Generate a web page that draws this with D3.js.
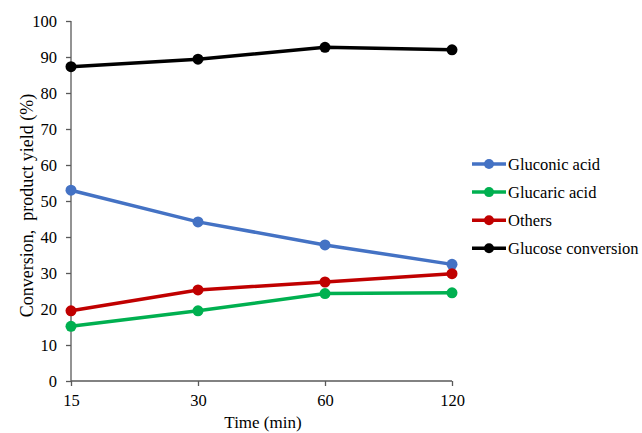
<!DOCTYPE html>
<html>
<head>
<meta charset="utf-8">
<script src="https://cdn.jsdelivr.net/npm/d3@7"></script>
<style>
  body { margin: 0; background: #fff; }
  svg text { font-family: "Liberation Serif", "Times New Roman", Times, serif; }
</style>
</head>
<body>
<svg id="chart" width="642" height="433"></svg>
<script>
// data
var times = ["15", "30", "60", "120"];
var gluconic = [53.0, 44.2, 37.8, 32.4];
var glucaric = [15.2, 19.5, 24.3, 24.5];
var others = [19.5, 25.3, 27.5, 29.8];
var glucose = [87.3, 89.4, 92.7, 92.0];
var yTicks = [0, 10, 20, 30, 40, 50, 60, 70, 80, 90, 100];

var series = [
    {name: "Gluconic acid", values: gluconic, color: "#4472C4"},
    {name: "Glucaric acid", values: glucaric, color: "#00B050"},
    {name: "Others", values: others, color: "#C00000"},
    {name: "Glucose conversion", values: glucose, color: "#000000"}
];

var svg = d3.select("#chart");

var x = d3.scalePoint().domain(times).range([71, 452]);
var y = d3.scaleLinear().domain([0, 100]).range([381, 21]);

// axes
var xAxis = svg.append("g")
    .attr("transform", "translate(0,381)")
    .call(d3.axisBottom(x).tickSize(5).tickPadding(8.5));
xAxis.select(".domain").attr("d", "M71,0H452");

var yAxis = svg.append("g")
    .attr("transform", "translate(71,0)")
    .call(d3.axisLeft(y).tickValues(yTicks).tickSize(5).tickPadding(9));
yAxis.select(".domain").attr("d", "M0,381V21");

svg.selectAll("g").attr("font-family", null).attr("font-size", null);
svg.selectAll(".domain, .tick line")
    .attr("stroke", "#595959")
    .attr("stroke-width", 1.3);
svg.selectAll(".tick text")
    .attr("fill", "#000")
    .style("font-size", "16.5px");

// axis titles
svg.append("text")
    .attr("x", 263).attr("y", 428)
    .attr("text-anchor", "middle")
    .style("font-size", "17px")
    .text("Time (min)");

svg.append("text")
    .attr("transform", "translate(33,205.5) rotate(-90)")
    .attr("text-anchor", "middle")
    .style("font-size", "18px")
    .style("white-space", "pre")
    .text("Conversion,  product yield (%)");

// lines + markers
var line = d3.line()
    .x(function(d, i) { return x(times[i]); })
    .y(function(d) { return y(d); });

series.forEach(function(s) {
    svg.append("path")
        .datum(s.values)
        .attr("d", line)
        .attr("fill", "none")
        .attr("stroke", s.color)
        .attr("stroke-width", 3.5);

    svg.selectAll(null)
        .data(s.values)
        .enter()
        .append("circle")
        .attr("cx", function(d, i) { return x(times[i]); })
        .attr("cy", function(d) { return y(d); })
        .attr("r", 5.5)
        .attr("fill", s.color);
});

// legend
var legend = svg.append("g");
series.forEach(function(s, i) {
    var ly = 164 + i * 28.1;
    legend.append("line")
        .attr("x1", 472).attr("x2", 506)
        .attr("y1", ly).attr("y2", ly)
        .attr("stroke", s.color)
        .attr("stroke-width", 3.5);
    legend.append("circle")
        .attr("cx", 489).attr("cy", ly).attr("r", 5)
        .attr("fill", s.color);
    legend.append("text")
        .attr("x", 508).attr("y", ly + 5.5)
        .style("font-size", "16.5px")
        .text(s.name);
});
</script>
</body>
</html>
